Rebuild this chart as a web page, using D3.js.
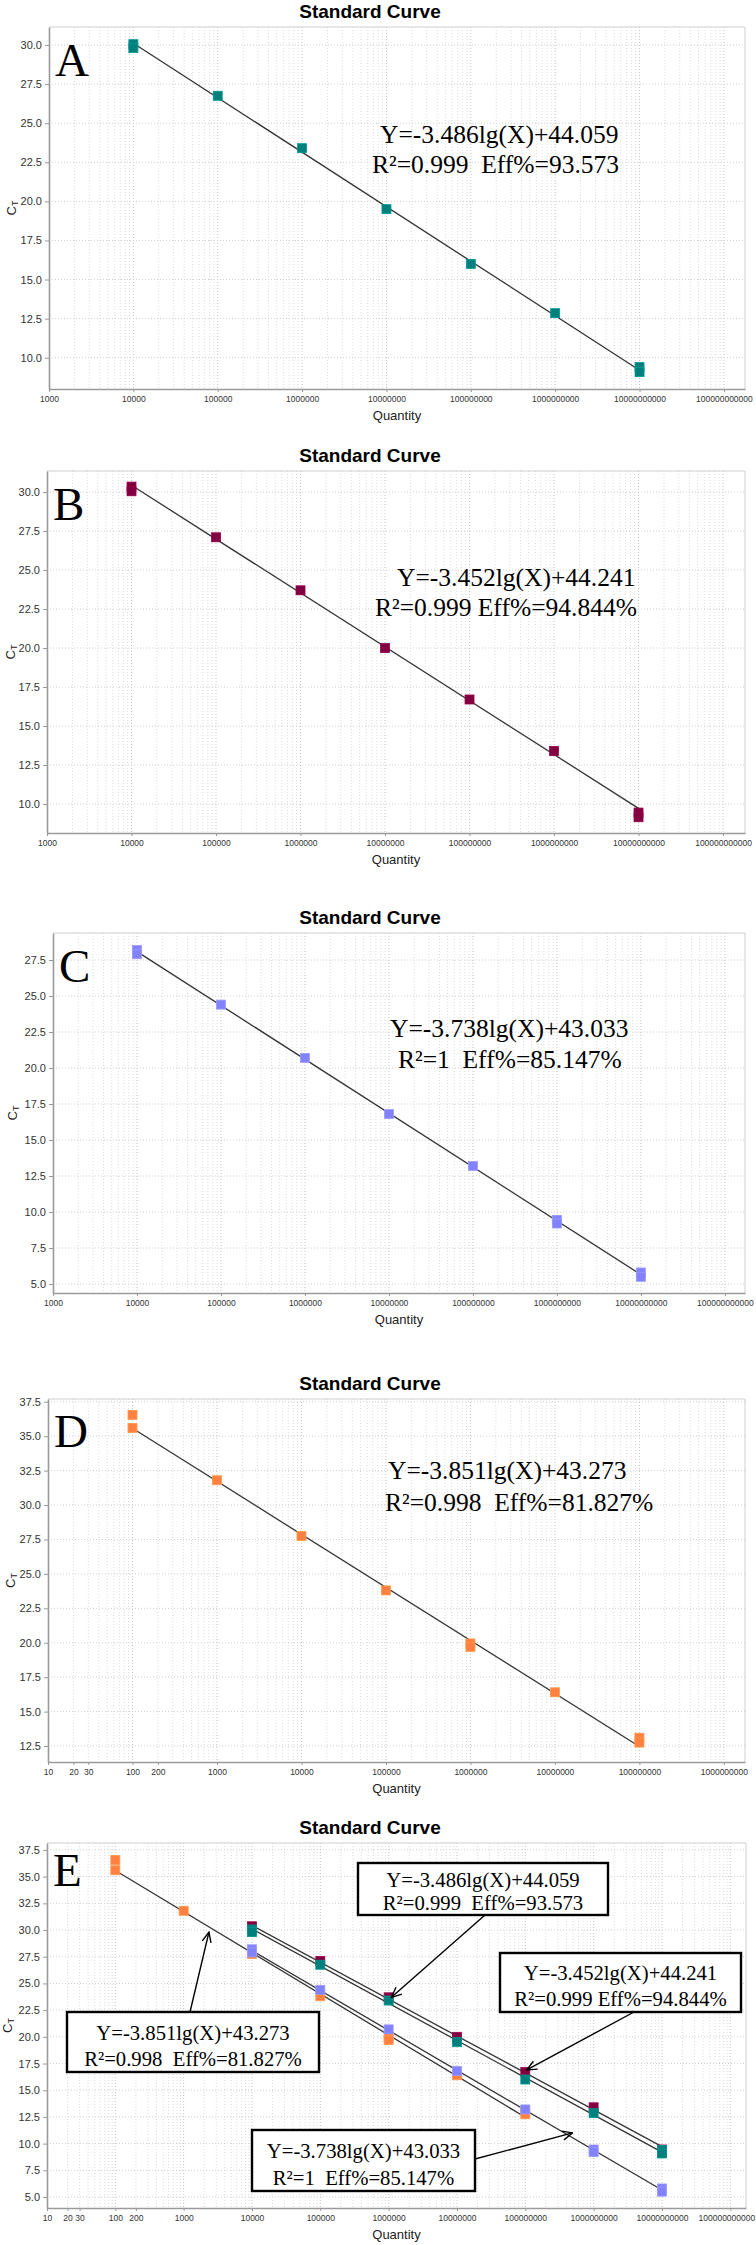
<!DOCTYPE html>
<html>
<head>
<meta charset="utf-8">
<script src="https://cdn.jsdelivr.net/npm/d3@7"></script>
<style>
  body { margin: 0; background: #fff; }
  svg { display: block; }
</style>
</head>
<body>
<div id="chart"></div>
<script>
// ---- data ----
const qtyA = [1e4, 1e4, 1e5, 1e6, 1e7, 1e8, 1e9, 1e10, 1e10];
const ctA  = [30.05, 29.8, 26.75, 23.4, 19.5, 16.0, 12.85, 9.4, 9.08];
const qtyB = [1e4, 1e4, 1e5, 1e6, 1e7, 1e8, 1e9, 1e10, 1e10];
const ctB  = [30.35, 30.05, 27.1, 23.7, 20.0, 16.7, 13.4, 9.45, 9.15];
const qtyC = [1e4, 1e4, 1e5, 1e6, 1e7, 1e8, 1e9, 1e9, 1e10, 1e10];
const ctC  = [28.2, 27.9, 24.4, 20.7, 16.8, 13.2, 9.45, 9.2, 5.8, 5.5];
const qtyD = [100, 100, 1e3, 1e4, 1e5, 1e6, 1e6, 1e7, 1e8, 1e8];
const ctD  = [36.55, 35.6, 31.8, 27.75, 23.8, 19.95, 19.7, 16.4, 13.1, 12.75];

// fitted standard curves: Y = slope*lg(X) + intercept
const slopes     = [-3.486, -3.452, -3.738, -3.851];
const intercepts = [44.059, 44.241, 43.033, 43.273];
const r2Values   = ["0.999", "0.999", "1", "0.998"];
const effValues  = ["93.573", "94.844%", "85.147%", "81.827%"];

// tick labels
const qtyTicksABC = [1e3, 1e4, 1e5, 1e6, 1e7, 1e8, 1e9, 1e10, 1e11];
const qtyTicksD   = [10, 20, 30, 100, 200, 1e3, 1e4, 1e5, 1e6, 1e7, 1e8, 1e9];
const qtyTicksE   = [10, 20, 30, 100, 200, 1e3, 1e4, 1e5, 1e6, 1e7, 1e8, 1e9, 1e10, 1e11];
const ctTicksAB = [10, 12.5, 15, 17.5, 20, 22.5, 25, 27.5, 30];
const ctTicksC  = [5, 7.5, 10, 12.5, 15, 17.5, 20, 22.5, 25, 27.5];
const ctTicksD  = [12.5, 15, 17.5, 20, 22.5, 25, 27.5, 30, 32.5, 35, 37.5];
const ctTicksE  = [5, 7.5, 10, 12.5, 15, 17.5, 20, 22.5, 25, 27.5, 30, 32.5, 35, 37.5];

// ---- styles / layout ----
const seriesQty = [qtyA, qtyB, qtyC, qtyD];
const seriesCt  = [ctA, ctB, ctC, ctD];
const seriesColor = ["#00807c", "#800040", "#8282ff", "#ff8040"];
const markerSize = 9;
const pageWidth = 756;
const serif = "'Liberation Serif', 'Times New Roman', serif";
const sans = "'Liberation Sans', Arial, sans-serif";

const eqText = i => `Y=${slopes[i].toFixed(3)}lg(X)+${intercepts[i].toFixed(3)}`;
const fitText = (i, gap) => `R\u00b2=${r2Values[i]}${gap}Eff%=${effValues[i]}`;

const panels = [
  { letter: "A", series: [0], left: 49, right: 745, top: 27, bottom: 389,
    xDomain: [1e3, 10 ** 11.25], yDomain: [8.0, 31.15], xTicks: qtyTicksABC, yTicks: ctTicksAB,
    letterDy: 49, ylabX: 16,
    notes: [{ i: 0, x1: 380, y1: 143, x2: 372, y2: 173, gap: "  " }] },
  { letter: "B", series: [1], left: 47, right: 745, top: 471, bottom: 833,
    xDomain: [1e3, 10 ** 11.26], yDomain: [8.14, 31.35], xTicks: qtyTicksABC, yTicks: ctTicksAB,
    letterDy: 49, ylabX: 15,
    notes: [{ i: 1, x1: 397, y1: 586, x2: 375, y2: 616, gap: " " }] },
  { letter: "C", series: [2], left: 53, right: 745, top: 933, bottom: 1293,
    xDomain: [1e3, 10 ** 11.24], yDomain: [4.375, 29.375], xTicks: qtyTicksABC, yTicks: ctTicksC,
    letterDy: 49, ylabX: 17,
    notes: [{ i: 2, x1: 390, y1: 1037, x2: 398, y2: 1068, gap: "  " }] },
  { letter: "D", series: [3], left: 48, right: 745, top: 1399, bottom: 1762,
    xDomain: [10, 10 ** 9.25], yDomain: [11.34, 37.7], xTicks: qtyTicksD, yTicks: ctTicksD,
    letterDy: 48, ylabX: 15,
    notes: [{ i: 3, x1: 388, y1: 1479, x2: 385, y2: 1511, gap: "  " }] },
  { letter: "E", series: [3, 2, 1, 0], left: 47, right: 746, top: 1843, bottom: 2208,
    xDomain: [10, 10 ** 11.23], yDomain: [3.97, 38.15], xTicks: qtyTicksE, yTicks: ctTicksE,
    letterDy: 43, ylabX: 12,
    boxes: [
      { i: 0, x: 358, y: 1863, w: 250, h: 52, gap: "  ", from: [485, 1915], to: [1.1e6, 23.7] },
      { i: 1, x: 500, y: 1953, w: 241, h: 59, gap: " ", from: [634, 2012], to: [1.05e8, 16.9] },
      { i: 3, x: 67, y: 2012, w: 252, h: 60, gap: "  ", from: [190, 2012], to: [10 ** 3.37, 29.8] },
      { i: 2, x: 252, y: 2130, w: 223, h: 61, gap: "  ", from: [475, 2159], to: [10 ** 8.69, 11.0] }
    ] }
];

const svg = d3.select("#chart").append("svg")
  .attr("width", pageWidth)
  .attr("height", 2245);

svg.append("rect").attr("width", pageWidth).attr("height", 2245).attr("fill", "#fff");

svg.append("defs").append("marker")
  .attr("id", "arrow")
  .attr("viewBox", "0 0 12 12")
  .attr("refX", 11).attr("refY", 6)
  .attr("markerWidth", 12).attr("markerHeight", 12)
  .attr("markerUnits", "userSpaceOnUse")
  .attr("orient", "auto")
  .append("path")
  .attr("d", "M1,1.5 L11,6 L1,10.5")
  .attr("fill", "none")
  .attr("stroke", "#000")
  .attr("stroke-width", 1.4);

panels.forEach(drawPanel);

function drawPanel(p) {
  const g = svg.append("g");
  const x = d3.scaleLog().domain(p.xDomain).range([p.left, p.right]);
  const y = d3.scaleLinear().domain(p.yDomain).range([p.bottom, p.top]);

  // grid: every log multiple vertically, major ct ticks horizontally
  const grid = g.append("g").attr("fill", "none");
  const vTicks = x.ticks(40).filter(d => x(d) > p.left + 1 && x(d) < p.right - 1);
  grid.selectAll("line.v").data(vTicks).join("line")
    .attr("class", "v")
    .attr("x1", d => x(d)).attr("x2", d => x(d))
    .attr("y1", p.top).attr("y2", p.bottom)
    .attr("stroke", d => Math.abs(Math.log10(d) % 1) < 1e-6 ? "#c4c4c4" : "#dcdcdc")
    .attr("stroke-dasharray", "1,2");
  grid.selectAll("line.h").data(p.yTicks).join("line")
    .attr("class", "h")
    .attr("x1", p.left).attr("x2", p.right)
    .attr("y1", d => y(d)).attr("y2", d => y(d))
    .attr("stroke", "#cfcfcf")
    .attr("stroke-dasharray", "1,2");

  // frame
  g.append("path")
    .attr("d", `M${p.left},${p.top}H${p.right}V${p.bottom}`)
    .attr("fill", "none")
    .attr("stroke", "#cfcfcf");

  // axes
  const xAxis = g.append("g")
    .attr("transform", `translate(0,${p.bottom})`)
    .call(d3.axisBottom(x).tickValues(p.xTicks).tickFormat(d3.format("d"))
      .tickSize(3).tickSizeOuter(0).tickPadding(4));
  const yAxis = g.append("g")
    .attr("transform", `translate(${p.left},0)`)
    .call(d3.axisLeft(y).tickValues(p.yTicks).tickFormat(d3.format(".1f"))
      .tickSize(4).tickSizeOuter(0).tickPadding(3));
  [xAxis, yAxis].forEach(a => {
    a.select(".domain").attr("stroke", "#9a9a9a").attr("stroke-width", 1.6);
    a.selectAll(".tick line").attr("stroke", "#9a9a9a");
    a.selectAll(".tick text").attr("fill", "#333").attr("font-family", sans);
  });
  xAxis.selectAll(".tick text").attr("font-size", 8.5);
  yAxis.selectAll(".tick text").attr("font-size", 11);

  // keep the last quantity label inside the page
  xAxis.selectAll(".tick text").each(function(d) {
    const b = this.getBBox();
    const over = x(d) + b.x + b.width - (pageWidth - 1);
    if (over > 0) d3.select(this).attr("x", -over);
  });

  // fitted lines, then markers
  p.series.forEach(i => {
    const ext = d3.extent(seriesQty[i]);
    g.append("line")
      .attr("x1", x(ext[0])).attr("y1", y(slopes[i] * Math.log10(ext[0]) + intercepts[i]))
      .attr("x2", x(ext[1])).attr("y2", y(slopes[i] * Math.log10(ext[1]) + intercepts[i]))
      .attr("stroke", "#333")
      .attr("stroke-width", 1.3);
  });
  p.series.forEach(i => {
    const pts = seriesQty[i].map((q, k) => [q, seriesCt[i][k]]);
    g.append("g").selectAll("rect").data(pts).join("rect")
      .attr("x", d => x(d[0]) - markerSize / 2)
      .attr("y", d => y(d[1]) - markerSize / 2)
      .attr("width", markerSize).attr("height", markerSize)
      .attr("fill", seriesColor[i])
      .attr("stroke", d3.color(seriesColor[i]).brighter(0.5))
      .attr("stroke-width", 0.8);
  });

  // texts
  g.append("text")
    .attr("x", 370).attr("y", p.top - 9.5)
    .attr("text-anchor", "middle")
    .attr("font-family", sans).attr("font-weight", "bold").attr("font-size", 19)
    .text("Standard Curve");
  g.append("text")
    .attr("x", (p.left + p.right) / 2).attr("y", p.bottom + 31)
    .attr("text-anchor", "middle")
    .attr("font-family", sans).attr("font-size", 13).attr("fill", "#222")
    .text("Quantity");
  const yl = g.append("text")
    .attr("transform", `translate(${p.ylabX},${(p.top + p.bottom) / 2}) rotate(-90)`)
    .attr("text-anchor", "middle")
    .attr("font-family", sans).attr("font-size", 13).attr("fill", "#222");
  yl.append("tspan").text("C");
  yl.append("tspan").attr("font-size", 9).attr("dy", 2).text("T");

  g.append("text")
    .attr("x", p.left + 6).attr("y", p.top + p.letterDy)
    .attr("font-family", serif).attr("font-size", 47)
    .text(p.letter);

  (p.notes || []).forEach(n => {
    g.append("text")
      .attr("x", n.x1).attr("y", n.y1)
      .attr("font-family", serif).attr("font-size", 25.5)
      .style("white-space", "pre")
      .text(eqText(n.i));
    g.append("text")
      .attr("x", n.x2).attr("y", n.y2)
      .attr("font-family", serif).attr("font-size", 25.5)
      .style("white-space", "pre")
      .text(fitText(n.i, n.gap));
  });

  (p.boxes || []).forEach(b => {
    g.append("line")
      .attr("x1", b.from[0]).attr("y1", b.from[1])
      .attr("x2", x(b.to[0])).attr("y2", y(b.to[1]))
      .attr("stroke", "#000").attr("stroke-width", 1.4)
      .attr("marker-end", "url(#arrow)");
    g.append("rect")
      .attr("x", b.x).attr("y", b.y).attr("width", b.w).attr("height", b.h)
      .attr("fill", "#fff").attr("stroke", "#000").attr("stroke-width", 2.4);
    const cx = b.x + b.w / 2;
    g.append("text")
      .attr("x", cx).attr("y", b.y + b.h * 0.46)
      .attr("text-anchor", "middle")
      .attr("font-family", serif).attr("font-size", 20.7)
      .style("white-space", "pre")
      .text(eqText(b.i));
    g.append("text")
      .attr("x", cx).attr("y", b.y + b.h * 0.9)
      .attr("text-anchor", "middle")
      .attr("font-family", serif).attr("font-size", 20.7)
      .style("white-space", "pre")
      .text(fitText(b.i, b.gap));
  });
}
</script>
</body>
</html>
